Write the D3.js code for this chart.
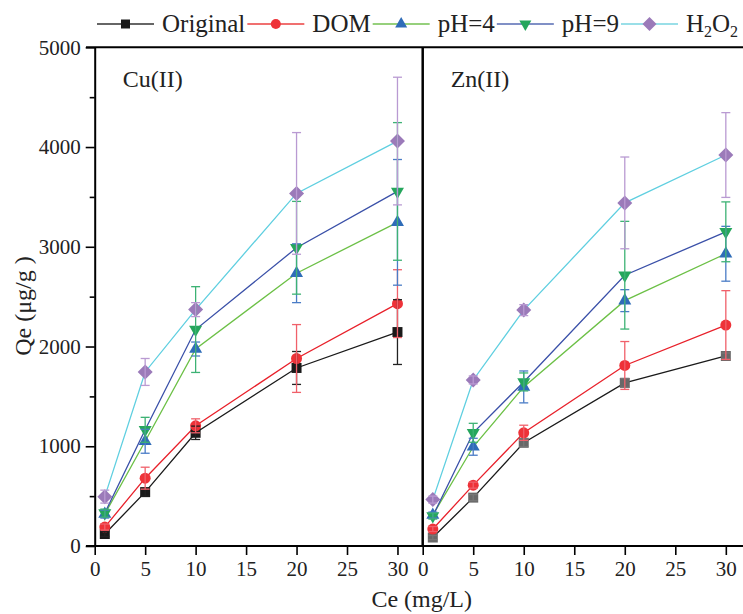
<!DOCTYPE html>
<html>
<head>
<meta charset="utf-8">
<script src="https://cdn.jsdelivr.net/npm/d3@7"></script>
<style>
body{margin:0;background:#fff}
svg{display:block;font-family:"Liberation Serif","Times New Roman",serif}
</style>
</head>
<body>
<svg id="chart" width="743" height="614"></svg>
<script>
// concentrations (mg/L)
var ce = [1, 5, 10, 20, 30]
var seriesNames = ["Original", "DOM", "pH=4", "pH=9", "H2O2"]
var panelNames = ["Cu(II)", "Zn(II)"]
var xTicks = [0, 5, 10, 15, 20, 25, 30]
var yTicks = [0, 1000, 2000, 3000, 4000, 5000]

// Cu(II) Qe (ug/g) and error
var cuOriginal = [120, 540, 1135, 1785, 2145]
var cuOriginalErr = [25, 40, 67, 165, 325]
var cuDOM = [190, 680, 1205, 1880, 2430]
var cuDOMErr = [30, 110, 70, 340, 340]
var cuPH4 = [320, 1050, 1975, 2735, 3245]
var cuPH4Err = [40, 120, 70, 295, 630]
var cuPH9 = [330, 1165, 2170, 2990, 3555]
var cuPH9Err = [40, 125, 430, 465, 690]
var cuH2O2 = [495, 1745, 2370, 3535, 4060]
var cuH2O2Err = [65, 135, 70, 610, 640]

// Zn(II)
var znOriginal = [85, 485, 1035, 1635, 1905]
var znOriginalErr = [20, 30, 40, 45, 30]
var znDOM = [170, 610, 1135, 1810, 2215]
var znDOMErr = [25, 30, 76, 240, 345]
var znPH4 = [310, 995, 1595, 2460, 2930]
var znPH4Err = [30, 85, 160, 110, 275]
var znPH9 = [300, 1135, 1645, 2715, 3150]
var znPH9Err = [30, 95, 90, 540, 300]
var znH2O2 = [465, 1665, 2365, 3440, 3920]
var znH2O2Err = [35, 40, 55, 460, 425]

var lineColors = ["#1a1a1a", "#e8202a", "#6cc046", "#3a50a8", "#5fcfe0"]
var legendLineColors = ["#666666", "#f07070", "#96d07c", "#8090c6", "#9adfe8"]
var markerColors = ["#1a1a1a", "#ee3238", "#2f6cb8", "#25a65c", "#9b7ab9"]
var errColors = ["#222222", "#f0606a", "#4a7cc6", "#3db274", "#b99ad2"]
var shapes = ["square", "circle", "up", "down", "diamond"]

function shapePath(shape, s) {
    if (shape == "square") return "M" + (-s/2) + "," + (-s/2) + "h" + s + "v" + s + "h" + (-s) + "Z"
    if (shape == "circle") return d3.symbol(d3.symbolCircle, Math.PI * s * s / 4)()
    var h = s * 0.87
    if (shape == "up") return "M0," + (-h*2/3) + "L" + (s/2) + "," + (h/3) + "L" + (-s/2) + "," + (h/3) + "Z"
    if (shape == "down") return "M0," + (h*2/3) + "L" + (s/2) + "," + (-h/3) + "L" + (-s/2) + "," + (-h/3) + "Z"
    return "M0," + (-s/2) + "L" + (s/2) + ",0L0," + (s/2) + "L" + (-s/2) + ",0Z"
}
var shapeSizes = {square: 10, circle: 11, up: 13, down: 13, diamond: 15}

var svg = d3.select("#chart")
var plotTop = 47.3, plotBottom = 546

var y = d3.scaleLinear().domain([0, 5000]).range([plotBottom, plotTop])

var panels = [
    {name: panelNames[0], x: d3.scaleLinear().domain([0, 32.5]).range([94.7, 422.7]),
     values: [cuOriginal, cuDOM, cuPH4, cuPH9, cuH2O2],
     errors: [cuOriginalErr, cuDOMErr, cuPH4Err, cuPH9Err, cuH2O2Err], squareColor: "#1a1a1a"},
    {name: panelNames[1], x: d3.scaleLinear().domain([0, 31.7]).range([422.7, 743]),
     values: [znOriginal, znDOM, znPH4, znPH9, znH2O2],
     errors: [znOriginalErr, znDOMErr, znPH4Err, znPH9Err, znH2O2Err], squareColor: "#686868"}
]

// y axis with minor ticks
var yMinor = d3.range(500, 5000, 1000)
svg.append("g").attr("transform", "translate(94.7,0)")
    .call(d3.axisLeft(y).tickValues(yMinor).tickSize(5).tickSizeOuter(0).tickFormat(""))
    .call(function(g) { g.select(".domain").remove() })
    .selectAll("line").attr("stroke-width", 1.6)
svg.append("g").attr("transform", "translate(94.7,0)")
    .call(d3.axisLeft(y).tickValues(yTicks).tickSize(9).tickPadding(5).tickSizeOuter(0).tickFormat(d3.format("d")))
    .call(function(g) {
        g.select(".domain").attr("stroke-width", 2)
        g.selectAll("line").attr("stroke-width", 1.6)
        g.selectAll("text").attr("font-size", 21).attr("font-family", "Liberation Serif").attr("fill", "#222")
    })

panels.forEach(function(p, pi) {
    svg.append("g").attr("transform", "translate(0," + plotBottom + ")")
        .call(d3.axisBottom(p.x).tickValues(xTicks).tickSize(9).tickPadding(6).tickSizeOuter(0))
        .call(function(g) {
            g.select(".domain").remove()
            g.selectAll("line").attr("stroke-width", 1.6)
            g.selectAll("text").attr("font-size", 21).attr("font-family", "Liberation Serif").attr("fill", "#222")
        })
})

// frame lines
svg.append("line").attr("x1", 86).attr("x2", 743).attr("y1", plotTop).attr("y2", plotTop).attr("stroke", "#000").attr("stroke-width", 2)
svg.append("line").attr("x1", 86).attr("x2", 743).attr("y1", plotBottom).attr("y2", plotBottom).attr("stroke", "#000").attr("stroke-width", 2)
svg.append("line").attr("x1", panels[1].x(0)).attr("x2", panels[1].x(0)).attr("y1", plotTop).attr("y2", plotBottom).attr("stroke", "#000").attr("stroke-width", 2.5)

panels.forEach(function(p) {
    var g = svg.append("g")
    var line = d3.line().x(function(d, i) { return p.x(ce[i]) }).y(function(d) { return y(d) })
    p.values.forEach(function(vals, si) {
        g.append("path").datum(vals).attr("d", line)
            .attr("fill", "none").attr("stroke", lineColors[si]).attr("stroke-width", 1.3)
    })
    p.values.forEach(function(vals, si) {
        var col = si == 0 ? p.squareColor : markerColors[si]
        g.selectAll(null).data(vals).enter().append("path")
            .attr("transform", function(d, i) { return "translate(" + p.x(ce[i]) + "," + y(d) + ")" })
            .attr("d", shapePath(shapes[si], shapeSizes[shapes[si]]))
            .attr("fill", col)
    })
    p.values.forEach(function(vals, si) {
        var errs = p.errors[si]
        var col = si == 0 && p.squareColor != "#1a1a1a" ? "#777" : errColors[si]
        var eb = g.selectAll(null).data(vals).enter().append("g")
            .attr("stroke", col).attr("stroke-width", 1.3).attr("fill", "none")
        eb.append("line")
            .attr("x1", function(d, i) { return p.x(ce[i]) }).attr("x2", function(d, i) { return p.x(ce[i]) })
            .attr("y1", function(d, i) { return y(d + errs[i]) }).attr("y2", function(d, i) { return y(d - errs[i]) })
        eb.append("line")
            .attr("x1", function(d, i) { return p.x(ce[i]) - 4.5 }).attr("x2", function(d, i) { return p.x(ce[i]) + 4.5 })
            .attr("y1", function(d, i) { return y(d + errs[i]) }).attr("y2", function(d, i) { return y(d + errs[i]) })
        eb.append("line")
            .attr("x1", function(d, i) { return p.x(ce[i]) - 4.5 }).attr("x2", function(d, i) { return p.x(ce[i]) + 4.5 })
            .attr("y1", function(d, i) { return y(d - errs[i]) }).attr("y2", function(d, i) { return y(d - errs[i]) })
    })
    svg.append("text").attr("x", p.x(0) + 28).attr("y", 87).attr("font-size", 24).attr("fill", "#222").text(p.name)
})

// axis titles
svg.append("text").attr("x", 421.7).attr("y", 607).attr("text-anchor", "middle").attr("font-size", 24).attr("fill", "#222").text("Ce (mg/L)")
svg.append("text").attr("transform", "translate(31,306) rotate(-90)").attr("text-anchor", "middle")
    .attr("font-size", 24).attr("fill", "#222").text("Qe (μg/g )")

// legend
var legend = svg.append("g")
var lx = 97, ly = 24
seriesNames.forEach(function(name, si) {
    var item = legend.append("g").attr("transform", "translate(" + lx + "," + ly + ")")
    item.append("line").attr("x1", 0).attr("x2", 57).attr("stroke", legendLineColors[si]).attr("stroke-width", 1.8)
    item.append("path").attr("transform", "translate(28.5,0)").attr("d", shapePath(shapes[si], shapeSizes[shapes[si]] - 1)).attr("fill", markerColors[si])
    var t = item.append("text").attr("x", 65).attr("y", 8).attr("font-size", 25).attr("fill", "#222")
    if (name == "H2O2") {
        t.append("tspan").text("H")
        t.append("tspan").attr("font-size", 16).attr("dy", 5).text("2")
        t.append("tspan").attr("dy", -5).text("O")
        t.append("tspan").attr("font-size", 16).attr("dy", 5).text("2")
    } else {
        t.text(name)
    }
    lx += 65 + t.node().getComputedTextLength() + 2
})
</script>
</body>
</html>
